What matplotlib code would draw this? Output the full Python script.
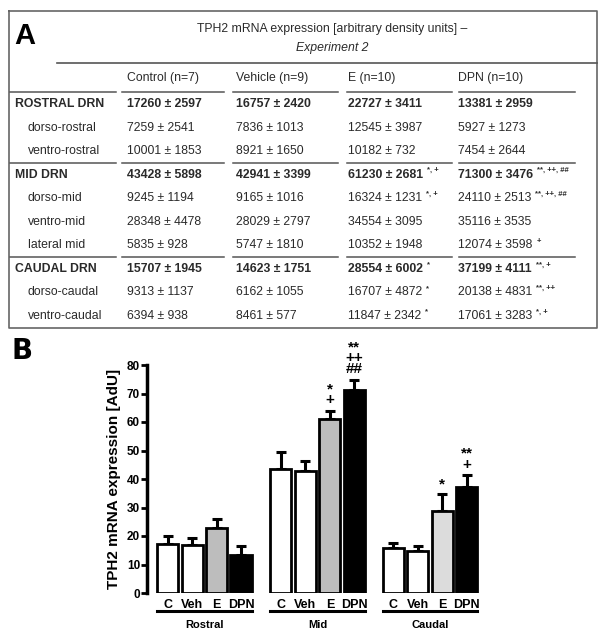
import matplotlib.pyplot as plt
import numpy as np

plt.rcParams['font.family'] = ['Liberation Sans', 'DejaVu Sans']

# ---- Panel A: table data ----
regions = ['ROSTRAL DRN', 'dorso-rostral', 'ventro-rostral',
           'MID DRN', 'dorso-mid', 'ventro-mid', 'lateral mid',
           'CAUDAL DRN', 'dorso-caudal', 'ventro-caudal']
is_total = [True, False, False, True, False, False, False, True, False, False]
col_headers = ['Control (n=7)', 'Vehicle (n=9)', 'E (n=10)', 'DPN (n=10)']

control_mean = [17260, 7259, 10001, 43428, 9245, 28348, 5835, 15707, 9313, 6394]
control_sem = [2597, 2541, 1853, 5898, 1194, 4478, 928, 1945, 1137, 938]
vehicle_mean = [16757, 7836, 8921, 42941, 9165, 28029, 5747, 14623, 6162, 8461]
vehicle_sem = [2420, 1013, 1650, 3399, 1016, 2797, 1810, 1751, 1055, 577]
e_mean = [22727, 12545, 10182, 61230, 16324, 34554, 10352, 28554, 16707, 11847]
e_sem = [3411, 3987, 732, 2681, 1231, 3095, 1948, 6002, 4872, 2342]
e_sig = ['', '', '', '*, +', '*, +', '', '', '*', '*', '*']
dpn_mean = [13381, 5927, 7454, 71300, 24110, 35116, 12074, 37199, 20138, 17061]
dpn_sem = [2959, 1273, 2644, 3476, 2513, 3535, 3598, 4111, 4831, 3283]
dpn_sig = ['', '', '', '**, ++, ##', '**, ++, ##', '', '+', '**, +', '**, ++', '*, +']

# ---- Panel B: bar chart data (x 1000 AdU) ----
groups = ['Rostral', 'Mid', 'Caudal']
treatments = ['C', 'Veh', 'E', 'DPN']
rostral_vals = [17.3, 16.8, 22.7, 13.4]
rostral_err = [2.6, 2.4, 3.4, 3.0]
mid_vals = [43.4, 42.9, 61.2, 71.3]
mid_err = [5.9, 3.4, 2.7, 3.5]
caudal_vals = [15.7, 14.6, 28.6, 37.2]
caudal_err = [1.9, 1.8, 6.0, 4.1]
rostral_sig = ['', '', '', '']
mid_sig = ['', '', '*\n+', '**\n++\n##']
caudal_sig = ['', '', '*', '**\n+']

fig = plt.figure(figsize=(6.01, 6.41), dpi=100)
ax0 = fig.add_axes([0, 0, 1, 1])
ax0.set_xlim(0, 601)
ax0.set_ylim(641, 0)
ax0.axis('off')

txt = '#2a2a2a'
line_c = '#555555'

# table frame
ax0.plot([9, 597, 597, 9, 9], [11, 11, 328, 328, 11], color='#666666', lw=1.2)
ax0.text(14, 36, 'A', fontsize=21, fontweight='bold', va='center', ha='left', color='black')
ax0.text(332, 29, 'TPH2 mRNA expression [arbitrary density units] \u2013',
         fontsize=8.8, ha='center', va='center', color=txt)
ax0.text(332, 48, 'Experiment 2', fontsize=8.8, ha='center', va='center',
         style='italic', color=txt)
ax0.plot([57, 597], [63, 63], color=line_c, lw=1.2)

col_x = [127, 236, 348, 458]
line_segs = [(10, 116), (122, 224), (233, 338), (347, 452), (459, 575)]
for cx, h in zip(col_x, col_headers):
    ax0.text(cx, 78, h, fontsize=8.8, ha='left', va='center', color=txt)

def hlines(y):
    for a, b in line_segs:
        ax0.plot([a, b], [y, y], color=line_c, lw=1.1)

hlines(92)
hlines(163)
hlines(257)

row_y = 104 + 23.55 * np.arange(len(regions))
cols = [(control_mean, control_sem, None), (vehicle_mean, vehicle_sem, None),
        (e_mean, e_sem, e_sig), (dpn_mean, dpn_sem, dpn_sig)]

fig.canvas.draw()
renderer = fig.canvas.get_renderer()
for i, (name, y) in enumerate(zip(regions, row_y)):
    bold = 'bold' if is_total[i] else 'normal'
    ax0.text(15 if is_total[i] else 28, y, name, fontsize=8.8, fontweight=bold,
             ha='left', va='center', color=txt)
    for cx, (m, s, sig) in zip(col_x, cols):
        t = ax0.text(cx, y, f'{m[i]} \u00b1 {s[i]}', fontsize=8.8, fontweight=bold,
                     ha='left', va='center', color=txt)
        if sig and sig[i]:
            bb = t.get_window_extent(renderer)
            ax0.text(bb.x1 + 4, y - 4, sig[i], fontsize=5.5, fontweight='bold',
                     ha='left', va='center', color=txt)

# ---- Panel B ----
ax0.text(12, 351, 'B', fontsize=20, fontweight='heavy', va='center', ha='left',
         color='black', family='DejaVu Sans')

ax = fig.add_axes([147 / 601, 48 / 641, 333 / 601, 228 / 641])
ax.patch.set_alpha(0)
offsets = [0.0, 4.63, 9.22]
fills = [['white', 'white', '#bdbdbd', 'black'],
         ['white', 'white', '#bdbdbd', 'black'],
         ['white', 'white', '#dcdcdc', 'black']]
all_vals = [rostral_vals, mid_vals, caudal_vals]
all_err = [rostral_err, mid_err, caudal_err]
all_sig = [rostral_sig, mid_sig, caudal_sig]
xticks, xlabels = [], []
for g, off in enumerate(offsets):
    x = off + np.arange(len(treatments))
    ax.bar(x, all_vals[g], width=0.86, color=fills[g], edgecolor='black',
           linewidth=2, zorder=2)
    ax.errorbar(x, all_vals[g], yerr=[np.zeros(4), all_err[g]], fmt='none',
                ecolor='black', elinewidth=2.2, capsize=3.5, capthick=2.2, zorder=1)
    for xi, v, e, s in zip(x, all_vals[g], all_err[g], all_sig[g]):
        if s:
            ax.text(xi, v + e + 1.2, s, ha='center', va='bottom', fontsize=11,
                    fontweight='bold', linespacing=0.72, clip_on=False)
    xticks += list(x)
    xlabels += treatments
    # group underline and label
    ax.plot([x[0] - 0.43, x[-1] + 0.43], [-6.3, -6.3], color='black', lw=2.2,
            clip_on=False)
    ax.text(x.mean(), -11.3, groups[g], ha='center', va='center', fontsize=8,
            fontweight='bold')

ax.set_xticks(xticks)
ax.set_xticklabels(xlabels, fontsize=9, fontweight='bold')
ax.tick_params(axis='x', length=0, pad=4)
ax.set_xlim(-0.84, 12.76)
ax.set_ylim(0, 80)
ax.set_yticks(np.arange(0, 81, 10))
ax.set_yticklabels([str(v) for v in range(0, 81, 10)], fontsize=8.5,
                   fontweight='bold')
ax.tick_params(axis='y', length=4, width=2, pad=1)
for side in ['top', 'right', 'bottom']:
    ax.spines[side].set_visible(False)
ax.spines['left'].set_linewidth(2.5)
ax.set_ylabel('TPH2 mRNA expression [AdU]', fontsize=11, fontweight='bold',
              labelpad=4)

fig.savefig('out.png', dpi=100)
